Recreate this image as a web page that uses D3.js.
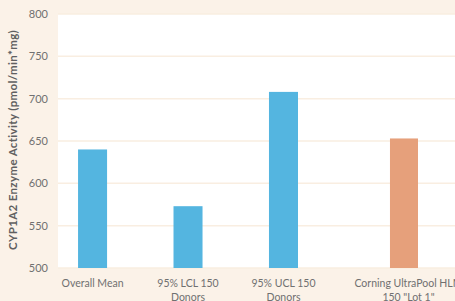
<!DOCTYPE html>
<html>
<head>
<meta charset="utf-8">
<script src="https://cdn.jsdelivr.net/npm/d3@7"></script>
<style>
  body { margin: 0; background: #fbf2e8; }
  text { font-family: Lato, "Open Sans", sans-serif; }
</style>
</head>
<body>
<div id="chart"></div>
<script>
// data
var categories = ["Overall Mean", "95% LCL 150 Donors", "95% UCL 150 Donors", "Corning UltraPool HLM 150 \"Lot 1\""];
var labelLines = [["Overall Mean"], ["95% LCL 150", "Donors"], ["95% UCL 150", "Donors"], ["Corning UltraPool HLM", "150 \"Lot 1\""]];
var donorValues = [640, 573, 708, null];
var lotValues = [null, null, null, 653];
var yTicks = [500, 550, 600, 650, 700, 750, 800];

var W = 455, H = 301;
var margin = {top: 14, right: 0, bottom: 33, left: 58},
    width = W - margin.left - margin.right,
    height = H - margin.top - margin.bottom;

var svg = d3.select("#chart")
  .append("svg")
    .attr("width", W)
    .attr("height", H);

svg.append("rect")
  .attr("width", W).attr("height", H)
  .attr("fill", "#fbf2e8");

var g = svg.append("g")
  .attr("transform", "translate(" + margin.left + "," + margin.top + ")");

// plot area
g.append("rect")
  .attr("width", width)
  .attr("height", height)
  .attr("fill", "#ffffff");

var x = d3.scaleBand()
  .domain(categories)
  .range([0, 355.5])
  .paddingInner(0.696)
  .paddingOuter(0.21);

var y = d3.scaleLinear()
  .domain([500, 800])
  .range([height, 0]);

// gridlines
g.selectAll(".grid")
  .data(yTicks)
  .enter()
  .append("line")
    .attr("x1", 0)
    .attr("x2", width)
    .attr("y1", d => y(d))
    .attr("y2", d => y(d))
    .attr("stroke", "#f9eee1")
    .attr("stroke-width", 1.5);

// y axis
var yAxis = g.append("g")
  .call(d3.axisLeft(y).tickValues(yTicks).tickSize(0).tickPadding(10));
yAxis.select(".domain").remove();
yAxis.selectAll("text")
  .attr("fill", "#707070")
  .style("font-size", "11px")
  .style("font-family", "Lato, sans-serif");

var seriesShift = x.bandwidth() * 0.88;

var donorData = categories.map((c, i) => ({cat: c, v: donorValues[i]})).filter(d => d.v != null);
var lotData = categories.map((c, i) => ({cat: c, v: lotValues[i]})).filter(d => d.v != null);

// bars
g.selectAll(".donor")
  .data(donorData)
  .enter()
  .append("rect")
    .attr("x", d => x(d.cat))
    .attr("y", d => y(d.v))
    .attr("width", x.bandwidth())
    .attr("height", d => height - y(d.v))
    .attr("fill", "#54b5e0");

g.selectAll(".lot")
  .data(lotData)
  .enter()
  .append("rect")
    .attr("x", d => x(d.cat) + seriesShift)
    .attr("y", d => y(d.v))
    .attr("width", x.bandwidth() - 1)
    .attr("height", d => height - y(d.v))
    .attr("fill", "#e6a07b");

// category labels, centred on the bars present
categories.forEach(function(c, i) {
  var cx = donorValues[i] != null ? x(c) + x.bandwidth() / 2 : x(c) + seriesShift + x.bandwidth() / 2 + 4;
  var t = g.append("text")
    .attr("x", cx)
    .attr("y", height + 19)
    .attr("text-anchor", "middle")
    .attr("fill", "#707070")
    .style("font-size", "10.5px");
  labelLines[i].forEach(function(line, j) {
    t.append("tspan")
      .attr("x", cx)
      .attr("dy", j === 0 ? 0 : 14)
      .text(line);
  });
});

// y axis title
svg.append("text")
  .attr("transform", "translate(17," + (margin.top + 126) + ") rotate(-90)")
  .attr("text-anchor", "middle")
  .attr("fill", "#606060")
  .style("font-size", "11.5px")
  .style("letter-spacing", "0.35px")
  .style("font-weight", "bold")
  .text("CYP1A2 Enzyme Activity (pmol/min*mg)");
</script>
</body>
</html>
